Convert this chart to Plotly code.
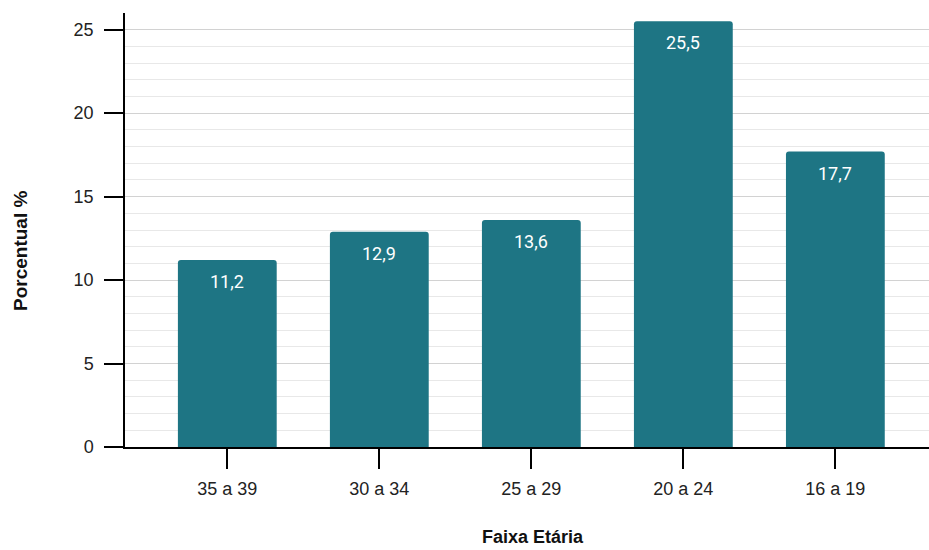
import plotly.graph_objects as go

# Distribuição percentual por faixa etária
faixas = ["35 a 39", "30 a 34", "25 a 29", "20 a 24", "16 a 19"]
percentuais = [11.2, 12.9, 13.6, 25.5, 17.7]
y_ticks = [0, 5, 10, 15, 20, 25]

bar_color = "#1e7584"
label_font = "Roboto, Noto Sans, sans-serif"
axis_font = "Liberation Sans, Arial, sans-serif"

fig = go.Figure()
fig.add_trace(go.Bar(
    x=faixas,
    y=percentuais,
    marker=dict(color=bar_color, cornerradius=3, line=dict(width=0)),
    width=0.65,
    hoverinfo="x+y",
))

# Valores dentro das barras, próximos ao topo
for cat, val in zip(faixas, percentuais):
    fig.add_annotation(
        x=cat, y=val, xref="x", yref="y",
        text=f"{val:.1f}".replace(".", ","),
        showarrow=False, yanchor="top", yshift=-9,
        font=dict(family=label_font, size=18, color="white"),
    )

# Títulos dos eixos
fig.add_annotation(
    x=0.5, y=0.0, xref="paper", yref="paper",
    xanchor="center", yanchor="bottom",
    text="<b>Faixa Etária</b>", showarrow=False,
    xshift=6, yshift=-102,
    font=dict(family=axis_font, size=18, color="#111"),
)
fig.add_annotation(
    x=0, y=0.5, xref="paper", yref="paper",
    xanchor="center", yanchor="middle", textangle=-90,
    text="<b>Porcentual %</b>", showarrow=False,
    xshift=-105, yshift=-21,
    font=dict(family=axis_font, size=19, color="#111"),
)

fig.update_layout(
    width=929, height=550,
    margin=dict(l=125, r=0, t=13, b=103),
    paper_bgcolor="white", plot_bgcolor="white",
    showlegend=False,
    bargap=0.35,
)
fig.update_xaxes(
    range=[-0.673, 4.616],
    showgrid=False,
    showline=True, linecolor="black", linewidth=1.5,
    ticks="outside", ticklen=20, tickwidth=1.5, tickcolor="black",
    tickfont=dict(family=axis_font, size=18, color="#222"),
    ticklabelstandoff=5,
    fixedrange=True,
)
fig.update_yaxes(
    range=[0, 26],
    tickvals=y_ticks,
    showgrid=True, gridcolor="#d2d2d2", gridwidth=1.2,
    minor=dict(dtick=1, showgrid=True, gridcolor="#e8e8e8", gridwidth=1),
    showline=True, linecolor="black", linewidth=1.5,
    ticks="outside", ticklen=19, tickwidth=1.5, tickcolor="black",
    tickfont=dict(family=axis_font, size=18, color="#222"),
    ticklabelstandoff=7,
    zeroline=False,
    fixedrange=True,
)

fig.write_html("out.html")
